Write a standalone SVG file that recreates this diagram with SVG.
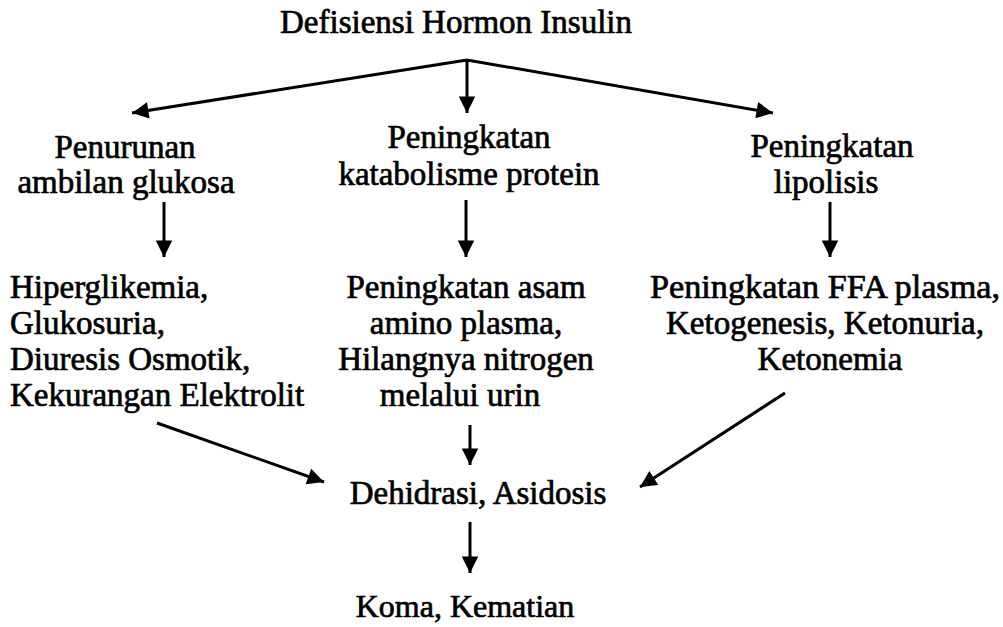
<svg xmlns="http://www.w3.org/2000/svg" width="1003" height="627" viewBox="0 0 1003 627">
<style>
text{font-family:"Liberation Serif","Times New Roman",serif;font-size:33px;fill:#000;stroke:#000;stroke-width:0.7}
.c{text-anchor:middle}
.ln{stroke:#000;stroke-width:3;fill:none}
</style>
<defs>
<marker id="ah" viewBox="0 0 10 10" refX="10" refY="5" markerWidth="6" markerHeight="5.5" markerUnits="strokeWidth" orient="auto">
<path d="M0,0 L10,5 L0,10 z" fill="#000"/>
</marker>
</defs>
<rect width="1003" height="627" fill="#fff"/>
<g id="n-defisiensi"><text class="c" x="456" y="33">Defisiensi Hormon Insulin</text></g>
<g id="n-penurunan"><text class="c" x="125" y="158">Penurunan</text><text class="c" x="126" y="193">ambilan glukosa</text></g>
<g id="n-katabolisme"><text class="c" x="469" y="148">Peningkatan</text><text class="c" x="469" y="185">katabolisme protein</text></g>
<g id="n-lipolisis"><text class="c" x="832" y="157">Peningkatan</text><text class="c" x="826" y="193">lipolisis</text></g>
<g id="n-hiperglikemia"><text x="10" y="298">Hiperglikemia,</text><text x="10" y="334">Glukosuria,</text><text x="10" y="370">Diuresis Osmotik,</text><text x="10" y="406">Kekurangan Elektrolit</text></g>
<g id="n-asam"><text class="c" x="466" y="298">Peningkatan asam</text><text class="c" x="466" y="334">amino plasma,</text><text class="c" x="466" y="370">Hilangnya nitrogen</text><text class="c" x="460" y="406">melalui urin</text></g>
<g id="n-ffa"><text class="c" x="825" y="298" textLength="350" lengthAdjust="spacingAndGlyphs">Peningkatan FFA plasma,</text><text class="c" x="825" y="334">Ketogenesis, Ketonuria,</text><text class="c" x="830" y="370">Ketonemia</text></g>
<g id="n-dehidrasi"><text class="c" x="478" y="504">Dehidrasi, Asidosis</text></g>
<g id="n-koma"><text class="c" x="465" y="617" style="font-size:32px">Koma, Kematian</text></g>
<g id="connectors">
<line class="ln" x1="467" y1="60" x2="132" y2="113" marker-end="url(#ah)"/>
<line class="ln" x1="467" y1="60" x2="773" y2="113" marker-end="url(#ah)"/>
<line class="ln" x1="467" y1="60" x2="467" y2="113" marker-end="url(#ah)"/>
<line class="ln" x1="164" y1="202" x2="164" y2="257" marker-end="url(#ah)"/>
<line class="ln" x1="466" y1="200" x2="466" y2="257" marker-end="url(#ah)"/>
<line class="ln" x1="830" y1="202" x2="830" y2="257" marker-end="url(#ah)"/>
<line class="ln" x1="157" y1="423" x2="324" y2="482" marker-end="url(#ah)"/>
<line class="ln" x1="470" y1="425" x2="470" y2="465" marker-end="url(#ah)"/>
<line class="ln" x1="785" y1="393" x2="640" y2="487" marker-end="url(#ah)"/>
<line class="ln" x1="470" y1="522" x2="470" y2="573" marker-end="url(#ah)"/>
</g>
</svg>
